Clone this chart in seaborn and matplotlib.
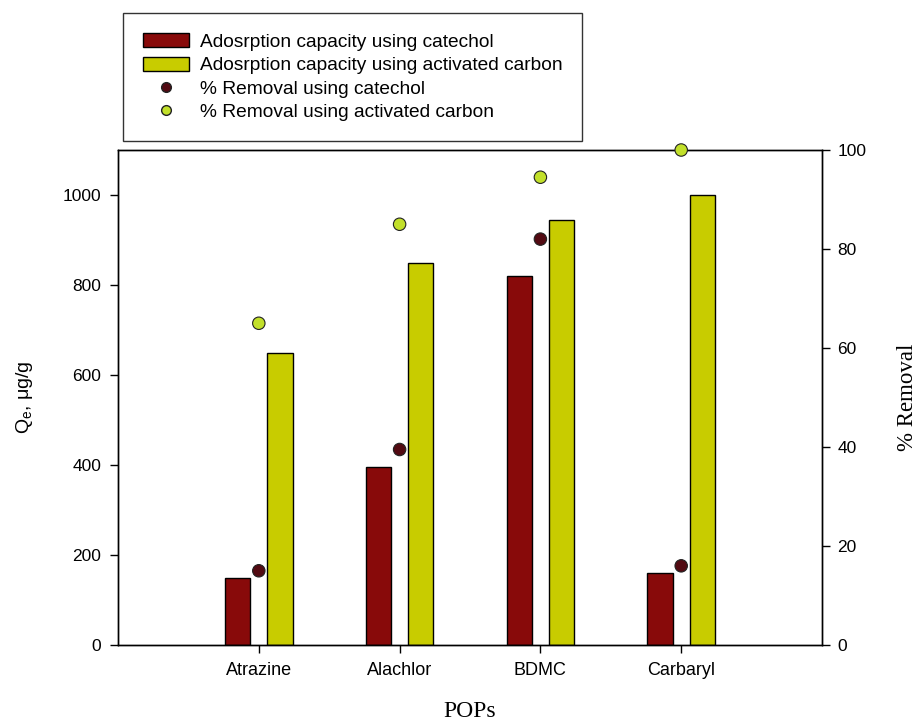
import numpy as np
import pandas as pd
import seaborn as sns
import matplotlib.pyplot as plt
from matplotlib.patches import Patch
from matplotlib.lines import Line2D

# --- data ---
POPS = ["Atrazine", "Alachlor", "BDMC", "Carbaryl"]
Q_CATECHOL = [150, 395, 820, 160]
Q_CARBON = [650, 850, 945, 1000]
REMOVAL_CATECHOL = [15, 39.5, 82, 16]
REMOVAL_CARBON = [65, 85, 94.5, 100]

LBL_Q_CAT = "Adosrption capacity using catechol"
LBL_Q_AC = "Adosrption capacity using activated carbon"
LBL_R_CAT = "% Removal using catechol"
LBL_R_AC = "% Removal using activated carbon"

BAR_CAT = "#880a0a"
BAR_AC = "#c8cc00"
DOT_CAT = "#520a12"
DOT_AC = "#c2e02a"

sns.set_theme(style="white")
plt.rcParams["font.family"] = ["Liberation Sans", "DejaVu Sans"]
plt.rcParams["text.color"] = "black"
plt.rcParams["axes.labelcolor"] = "black"
plt.rcParams["xtick.color"] = "black"
plt.rcParams["ytick.color"] = "black"
SERIF = ["Liberation Serif", "DejaVu Serif"]

bars = pd.DataFrame({
    "POP": POPS * 2,
    "Q": Q_CATECHOL + Q_CARBON,
    "Adsorbent": [LBL_Q_CAT] * len(POPS) + [LBL_Q_AC] * len(POPS),
})
dots = pd.DataFrame({
    "pos": list(range(len(POPS))) * 2,
    "Removal": REMOVAL_CATECHOL + REMOVAL_CARBON,
    "Adsorbent": [LBL_R_CAT] * len(POPS) + [LBL_R_AC] * len(POPS),
})

fig = plt.figure(figsize=(9.17, 7.25), dpi=100)
ax = fig.add_axes([0.1287, 0.1103, 0.7677, 0.6828])

sns.barplot(
    data=bars, x="POP", y="Q", hue="Adsorbent",
    palette=[BAR_CAT, BAR_AC], saturation=1, width=0.6, gap=0.4,
    edgecolor="black", linewidth=1, ax=ax, legend=False,
)
ax.set_xlim(-1, 4)
ax.set_ylim(0, 1100)
ax.set_yticks([0, 200, 400, 600, 800, 1000])
ax.set_xlabel("POPs", family=SERIF, fontsize=17, labelpad=16)
ax.set_ylabel("Q$_\\mathregular{e}$, \u03bcg/g", fontsize=14, labelpad=20)

ax2 = ax.twinx()
sns.scatterplot(
    data=dots, x="pos", y="Removal", hue="Adsorbent",
    palette=[DOT_CAT, DOT_AC], s=80, edgecolor="#222222", linewidth=0.8,
    ax=ax2, legend=False, zorder=5, clip_on=False,
)
ax2.set_ylim(0, 100)
ax2.set_yticks([0, 20, 40, 60, 80, 100])
ax2.set_ylabel("% Removal", family=SERIF, fontsize=16.5, labelpad=22)
ax2.set_xlim(-1, 4)

for a in (ax, ax2):
    for sp in a.spines.values():
        sp.set_color("black")
        sp.set_linewidth(1)
ax.tick_params(axis="y", direction="out", length=6, width=1, labelsize=12.5, left=True, pad=6)
ax.tick_params(axis="x", direction="out", length=6, width=1, labelsize=13, bottom=True, pad=6)
ax2.tick_params(axis="y", direction="out", length=6, width=1, labelsize=12.5, right=True, pad=5)

handles = [
    Patch(facecolor=BAR_CAT, edgecolor="black", label=LBL_Q_CAT),
    Patch(facecolor=BAR_AC, edgecolor="black", label=LBL_Q_AC),
    Line2D([], [], marker="o", ls="", markerfacecolor=DOT_CAT, markeredgecolor="#222222",
           markersize=7, label=LBL_R_CAT),
    Line2D([], [], marker="o", ls="", markerfacecolor=DOT_AC, markeredgecolor="#222222",
           markersize=7, label=LBL_R_AC),
]
leg = fig.legend(
    handles=handles, loc="upper left", bbox_to_anchor=(0.134, 0.982),
    borderaxespad=0, frameon=True, fancybox=False, edgecolor="black", fontsize=13.8,
    handlelength=2.4, handleheight=0.75, labelspacing=0.3, borderpad=1.05,
    handletextpad=0.55,
)
leg.get_frame().set_linewidth(1)

fig.savefig("out.png", dpi=100)
